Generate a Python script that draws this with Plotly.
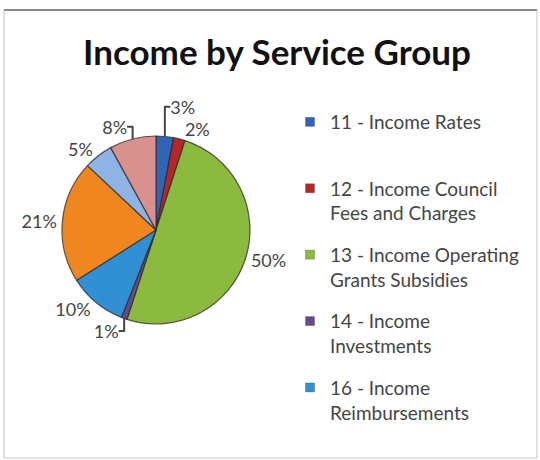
import plotly.graph_objects as go

# Income share by service group (percent of total income)
groups = [
    "11 - Income Rates",
    "12 - Income Council<br>Fees and Charges",
    "13 - Income Operating<br>Grants Subsidies",
    "14 - Income<br>Investments",
    "16 - Income<br>Reimbursements",
    "17 - Income Sales",
    "18 - Income Capital Grants",
    "19 - Income Other",
]
shares = [3, 2, 50, 1, 10, 21, 5, 8]
colors = ["#2f64b6", "#b3272a", "#8cba3e", "#664a8a", "#3190d4",
          "#f0861f", "#8fb3e4", "#d8918f"]
legend_count = 5  # only the first five groups fit in the legend box

W, H = 540, 460
fig = go.Figure()

fig.add_trace(go.Pie(
    labels=groups,
    values=shares,
    sort=False,
    direction="clockwise",
    rotation=0,
    marker=dict(colors=colors, line=dict(color="rgba(40,40,40,0.75)", width=1.2)),
    texttemplate="%{percent:.0%}",
    textposition="outside",
    textfont=dict(family="Lato", size=18, color="#454545"),
    showlegend=False,
    automargin=False,
    domain=dict(x=[62 / W, 250 / W], y=[1 - 324 / H, 1 - 136 / H]),
    hoverinfo="label+percent",
))

# Legend entries for the first five groups
for i in range(legend_count):
    name = groups[i] if "<br>" in groups[i] else groups[i] + "<br> "
    fig.add_trace(go.Scatter(
        x=[None], y=[None], mode="markers", name=name,
        legendgroup=f"g{i}",
        marker=dict(symbol="square", size=9, color=colors[i],
                    line=dict(color="rgba(40,40,40,0.5)", width=0.5)),
        hoverinfo="skip",
    ))

fig.update_layout(
    width=W, height=H,
    margin=dict(l=0, r=0, t=0, b=0),
    paper_bgcolor="white",
    plot_bgcolor="white",
    xaxis=dict(visible=False),
    yaxis=dict(visible=False),
    title=dict(
        text="<b>Income by Service Group</b>",
        x=277 / W, xanchor="center",
        y=1 - 53 / H, yanchor="middle",
        font=dict(family="Lato", size=35, color="#111111"),
    ),
    legend=dict(
        x=290 / W, xanchor="left",
        y=1 - 103 / H, yanchor="top",
        traceorder="grouped",
        tracegroupgap=14,
        valign="top",
        font=dict(family="Lato", size=19, color="#454545"),
        bgcolor="rgba(0,0,0,0)",
    ),
    shapes=[
        dict(type="rect", xref="paper", yref="paper",
             x0=4 / W, x1=537 / W, y0=1 - 458 / H, y1=1 - 10 / H,
             line=dict(color="#c4c4c4", width=1)),
        dict(type="line", xref="paper", yref="paper",
             x0=4 / W, x1=537 / W, y0=1 - 10 / H, y1=1 - 10 / H,
             line=dict(color="#8c8c8c", width=2)),
    ],
)

fig.write_html("out.html")
